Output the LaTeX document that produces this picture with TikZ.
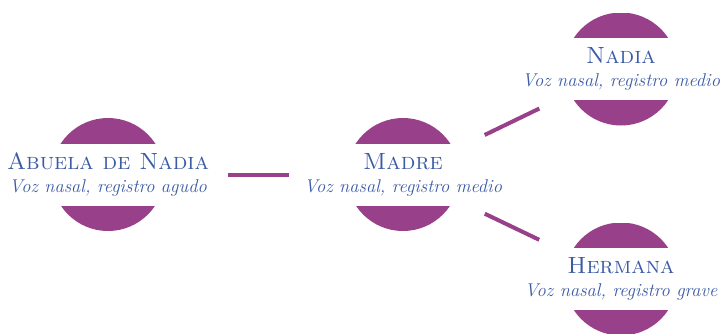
\documentclass[tikz,border=0pt]{standalone}
\usepackage{amsmath}
\usepackage{tikz}
\definecolor{morado}{RGB}{152,64,138}
\definecolor{azul}{RGB}{59,91,165}
\newcommand{\nombre}[1]{{\upshape\fontsize{23.5}{23}\selectfont\textsc{#1}}}

\begin{document}
\begin{tikzpicture}[x=1pt,y=-1pt,
  persona/.style={circle,minimum size=113pt,inner sep=0pt,
    path picture={\fill[morado] (path picture bounding box.north west)
      rectangle ([yshift=31pt]path picture bounding box.east);
      \fill[morado] (path picture bounding box.south west)
      rectangle ([yshift=-31pt]path picture bounding box.east);}},
  texto/.style={text=azul,align=center,inner sep=0pt,
    font=\fontsize{18.5}{23}\selectfont\itshape},
  linea/.style={draw=morado,line width=4pt}]
\useasboundingbox (0,0) rectangle (720,333);
\node[persona] (a0) at (108,174.5) {};
\node[persona] (a1) at (403,174.5) {};
\node[persona] (a2) at (621,69) {};
\node[persona] (a3) at (621,279) {};
\node[texto] (t0) at (a0) {\nombre{Abuela de Nadia}\\Voz nasal, registro agudo};
\node[texto] (t1) at (a1) {\nombre{Madre}\\Voz nasal, registro medio};
\node[texto] (t2) at (a2) {\nombre{Nadia}\\Voz nasal, registro medio};
\node[texto] (t3) at (a3) {\nombre{Hermana}\\Voz nasal, registro grave};
\draw[linea,shorten <=63pt,shorten >=57pt] (a0) -- (a1);
\draw[linea,shorten <=34pt,shorten >=34pt] (a1) -- (a2);
\draw[linea,shorten <=34pt,shorten >=34pt] (a1) -- (a3);
\end{tikzpicture}
\end{document}
